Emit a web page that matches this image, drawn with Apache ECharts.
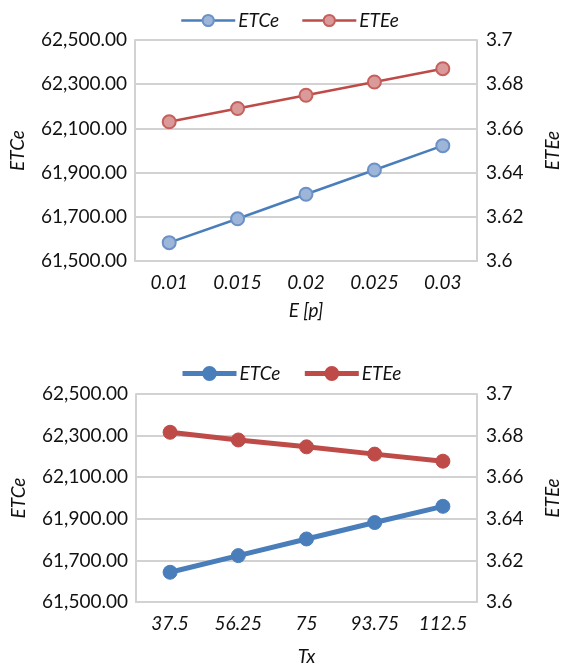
<!DOCTYPE html>
<html>
<head>
<meta charset="utf-8">
<script src="https://cdn.jsdelivr.net/npm/echarts@6/dist/echarts.min.js"></script>
<style>
  html, body { margin: 0; padding: 0; background: #fff; overflow: hidden; }
  #top { position: absolute; left: 0; top: 0; width: 570px; height: 340px; }
  #bottom { position: absolute; left: 0; top: 350px; width: 570px; height: 321px; }
</style>
</head>
<body>
<div id="top"></div>
<div id="bottom"></div>
<script>
// Upper panel: cost and efficiency versus E [p]
const eCategories = ['0.01', '0.015', '0.02', '0.025', '0.03'];
const etceByE = [61583, 61691, 61802, 61912, 62022];
const eteeByE = [3.663, 3.669, 3.675, 3.681, 3.687];

// Lower panel: cost and efficiency versus Tx
const txCategories = ['37.5', '56.25', '75', '93.75', '112.5'];
const etceByTx = [61643, 61723, 61803, 61882, 61960];
const eteeByTx = [3.6816, 3.6779, 3.6746, 3.6711, 3.6677];

// Axis ranges and tick steps
const leftMin = 61500, leftMax = 62500, leftStep = 200;
const rightMin = 3.6, rightMax = 3.7, rightStep = 0.02;

const FONT = 'Lato';
const TEXT = '#111';
const GRID_LINE = '#d2d2d2';
const BLUE = '#4a7ebb';
const RED = '#be4b48';

function fmtLeft(v) {
  return Number(v).toLocaleString('en-US', { minimumFractionDigits: 2, maximumFractionDigits: 2 });
}
function fmtRight(v) {
  return String(parseFloat(Number(v).toFixed(2)));
}

function buildOption(cfg) {
  const axisLine = { show: true, lineStyle: { color: GRID_LINE, width: 2 } };
  return {
    animation: false,
    textStyle: { fontFamily: FONT },
    legend: {
      left: 175,
      top: cfg.legendTop,
      itemWidth: 54,
      itemHeight: cfg.legendItemHeight,
      itemGap: 22,
      lineStyle: { width: cfg.lineWidth },
      textStyle: { fontFamily: FONT, fontSize: 19, fontStyle: 'italic', color: TEXT, padding: [0, 0, 0, -2] },
      data: ['ETCe', 'ETEe']
    },
    grid: { left: cfg.gridLeft, right: cfg.gridRight, top: cfg.gridTop, height: cfg.gridHeight, containLabel: false },
    xAxis: {
      type: 'category',
      data: cfg.categories,
      boundaryGap: true,
      name: cfg.xName,
      nameLocation: 'middle',
      nameGap: cfg.xNameGap,
      nameTextStyle: { fontFamily: FONT, fontSize: 19, fontStyle: 'italic', color: TEXT },
      axisLine: axisLine,
      axisTick: { show: false },
      axisLabel: { fontFamily: FONT, fontSize: 19, fontStyle: 'italic', color: TEXT, margin: 12 }
    },
    yAxis: [
      {
        type: 'value',
        min: leftMin, max: leftMax, interval: leftStep,
        name: 'ETCe',
        nameLocation: 'middle',
        nameGap: 108,
        nameRotate: 90,
        nameTextStyle: { fontFamily: FONT, fontSize: 19, fontStyle: 'italic', color: TEXT },
        axisLine: axisLine,
        axisTick: { show: false },
        splitLine: { show: true, lineStyle: { color: GRID_LINE, width: 2 } },
        axisLabel: { fontFamily: FONT, fontSize: 19, color: TEXT, margin: 8, formatter: fmtLeft }
      },
      {
        type: 'value',
        min: rightMin, max: rightMax, interval: rightStep,
        name: 'ETEe',
        nameLocation: 'middle',
        nameGap: 66,
        nameRotate: 90,
        nameTextStyle: { fontFamily: FONT, fontSize: 19, fontStyle: 'italic', color: TEXT },
        axisLine: axisLine,
        axisTick: { show: false },
        splitLine: { show: false },
        axisLabel: { fontFamily: FONT, fontSize: 19, color: TEXT, margin: 9, formatter: fmtRight }
      }
    ],
    series: [
      {
        name: 'ETCe',
        type: 'line',
        yAxisIndex: 0,
        data: cfg.etce,
        symbol: 'circle',
        symbolSize: cfg.symbolSize,
        lineStyle: { color: BLUE, width: cfg.lineWidth },
        itemStyle: cfg.hollow
          ? { color: '#9cb5d9', borderColor: '#6b91c7', borderWidth: 2 }
          : { color: BLUE, borderColor: BLUE, borderWidth: 1 }
      },
      {
        name: 'ETEe',
        type: 'line',
        yAxisIndex: 1,
        data: cfg.etee,
        symbol: 'circle',
        symbolSize: cfg.symbolSize,
        lineStyle: { color: RED, width: cfg.lineWidth },
        itemStyle: cfg.hollow
          ? { color: '#d99a99', borderColor: '#c5605d', borderWidth: 2 }
          : { color: RED, borderColor: RED, borderWidth: 1 }
      }
    ]
  };
}

const topChart = echarts.init(document.getElementById('top'), null, { renderer: 'canvas' });
topChart.setOption(buildOption({
  categories: eCategories, etce: etceByE, etee: eteeByE,
  xName: 'E [p]', xNameGap: 40,
  legendTop: 6, legendItemHeight: 14,
  gridLeft: 135, gridRight: 83, gridTop: 40, gridHeight: 221,
  symbolSize: 13, lineWidth: 2.5, hollow: true
}));

const bottomChart = echarts.init(document.getElementById('bottom'), null, { renderer: 'canvas' });
bottomChart.setOption(buildOption({
  categories: txCategories, etce: etceByTx, etee: eteeByTx,
  xName: 'Tx', xNameGap: 45,
  legendTop: 9, legendItemHeight: 16,
  gridLeft: 136, gridRight: 81, gridTop: 44, gridHeight: 219,
  symbolSize: 14, lineWidth: 5, hollow: false
}));
</script>
</body>
</html>
